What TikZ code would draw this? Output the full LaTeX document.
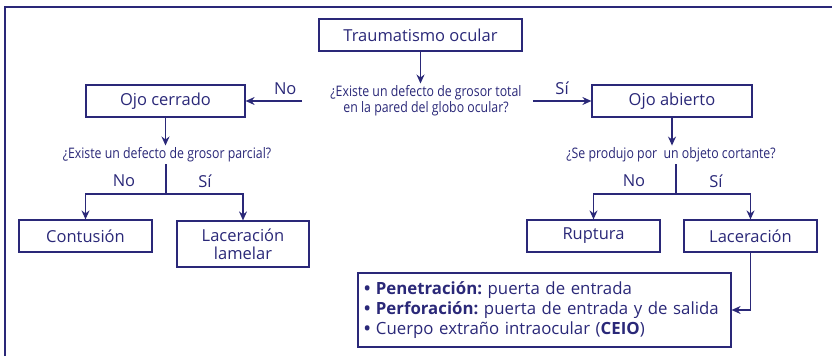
\documentclass[tikz,border=0pt]{standalone}
\usepackage{fontspec}
\setmainfont{Open Sans}
\newfontfamily\condfont[FakeStretch=0.85]{Open Sans}
\usetikzlibrary{arrows.meta,calc}
\definecolor{navy}{RGB}{42,40,120}
\frenchspacing

\begin{document}
\begin{tikzpicture}[x=1pt,y=-1pt,font=\fontsize{16.5}{19}\selectfont,>={Stealth[length=9pt,width=8pt,inset=3pt]},
      caja/.style={draw=navy,line width=1.2pt,text=navy,align=center,inner sep=0pt,minimum height=32pt},
      pregunta/.style={text=navy,align=center,inner sep=2pt,font=\condfont\fontsize{14.5}{16}\selectfont},
      rama/.style={text=navy,inner sep=1pt},
      flecha/.style={draw=navy,line width=1.2pt,->}]
    \useasboundingbox (0,0) rectangle (832,356);
    % frame
    \draw[navy,line width=2.5pt] (5,356) -- (5,7) -- (832,7);
    % first level
    \node[caja,minimum width=203pt] (trauma) at (420.5,35) {Traumatismo ocular};
    \node[pregunta] (q1) at (426,101) {¿Existe un defecto de grosor total\\en la pared del globo ocular?};
    \node[caja,minimum width=159pt] (cerrado) at (165.5,101) {Ojo cerrado};
    \node[caja,minimum width=160pt] (abierto) at (672,101) {Ojo abierto};
    \draw[flecha] (trauma.south) -- (trauma.south |- q1.north);
    \draw[flecha] ([xshift=-26pt]q1.west) -- (cerrado.east) node[rama,pos=0.3,above=5pt] {No};
    \draw[flecha] ([xshift=9pt]q1.east) -- (abierto.west) node[rama,midway,above=5pt] {Sí};
    % closed eye
    \node[pregunta] (q2) at (167,155) {¿Existe un defecto de grosor parcial?};
    \draw[flecha] (cerrado.south) -- (cerrado.south |- q2.north);
    \node[caja,minimum width=133pt] (contusion) at (85.5,236) {Contusión};
    \node[caja,minimum width=132pt,minimum height=46pt] (lamelar) at (243,244) {Laceración\\[-1pt]lamelar};
    \coordinate (s1) at (166,194);
    \draw[navy,line width=1.2pt] (s1 |- q2.south) -- (s1);
    \draw[flecha] (s1) -| (contusion.north);
    \draw[flecha] (s1) -| (lamelar.north);
    \node[rama] (no1) at (124,181) {No};
    \node[rama] (si1) at (205,181) {Sí};
    % open eye
    \node[pregunta] (q3) at (671,155) {¿Se produjo por\ \ un objeto cortante?};
    \draw[flecha] (abierto.south) -- (abierto.south |- q3.north);
    \node[caja,minimum width=133pt] (ruptura) at (593.5,236) {Ruptura};
    \node[caja,minimum width=133pt] (laceracion) at (750.5,236) {Laceración};
    \coordinate (s2) at (676,194);
    \draw[navy,line width=1.2pt] (s2 |- q3.south) -- (s2);
    \draw[flecha] (s2) -| (ruptura.north);
    \draw[flecha] (s2) -| (laceracion.north);
    \node[rama] (no2) at (634,181) {No};
    \node[rama] (si2) at (716,181) {Sí};
    % types of laceration
    \node[caja,minimum width=373pt,minimum height=74pt,align=left,text width=361pt,
          font=\fontsize{16.8}{20}\selectfont] (lista) at (544.5,310)
      {\textbf{•} \textbf{Penetración:} puerta de entrada\\
       \textbf{•} \textbf{Perforación:} puerta de entrada y de salida\\
       \textbf{•} Cuerpo extraño intraocular (\textbf{CEIO})};
    \draw[flecha] (laceracion.south) |- (lista.east);
\end{tikzpicture}
\end{document}
